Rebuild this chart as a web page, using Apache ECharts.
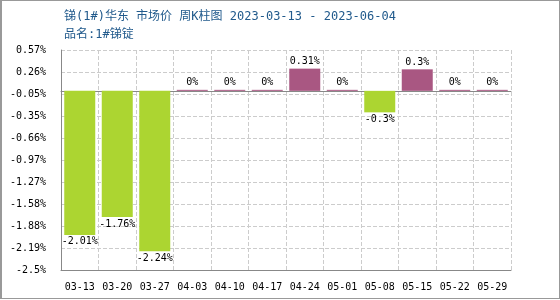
<!DOCTYPE html>
<html>
<head>
<meta charset="utf-8">
<script src="https://cdn.jsdelivr.net/npm/echarts@6/dist/echarts.min.js"></script>
<style>
html, body { margin: 0; padding: 0; background: #fff; }
#box { width: 560px; height: 299px; box-sizing: border-box; border: 1px solid #999; border-left-width: 2px; position: relative; }
#chart { position: absolute; left: -2px; top: -1px; width: 560px; height: 300px; }
</style>
</head>
<body>
<div id="box"><div id="chart"></div></div>
<script>
// 周K柱图数据
var weeks = ['03-13','03-20','03-27','04-03','04-10','04-17','04-24','05-01','05-08','05-15','05-22','05-29'];
var change = [-2.01, -1.76, -2.24, 0, 0, 0, 0.31, 0, -0.3, 0.3, 0, 0];
var yLabels = ['-2.5%','-2.19%','-1.88%','-1.58%','-1.27%','-0.97%','-0.66%','-0.35%','-0.05%','0.26%','0.57%'];

var upColor = '#a95782';
var downColor = '#acd531';
var mono = 'DejaVu Sans Mono';
var titleFont = "'DejaVu Sans Mono', 'Noto Sans CJK SC'";

var barData = change.map(function (v) {
    return {
        value: v,
        itemStyle: { color: v < 0 ? downColor : upColor },
        label: { position: v < 0 ? 'bottom' : 'top' }
    };
});

var chart = echarts.init(document.getElementById('chart'));
var option = {
    animation: false,
    title: {
        text: '锑(1#)华东 市场价 周K柱图 2023-03-13 - 2023-06-04',
        subtext: '品名:1#锑锭',
        left: 59,
        top: 6,
        itemGap: 6,
        textStyle: { fontFamily: titleFont, fontSize: 12, fontWeight: 'normal', color: '#215a8c' },
        subtextStyle: { fontFamily: titleFont, fontSize: 12, color: '#215a8c' }
    },
    grid: { left: 61, right: 49, top: 50, bottom: 30 },
    xAxis: [
        {
            type: 'category',
            data: weeks,
            position: 'bottom',
            axisLine: { onZero: false, lineStyle: { color: '#888', width: 1 } },
            axisTick: { show: false },
            axisLabel: { fontFamily: mono, fontSize: 10, color: '#000', margin: 12, interval: 0 },
            splitLine: { show: true, interval: 0, lineStyle: { type: 'dashed', color: '#ccc' } }
        },
        {
            type: 'category',
            data: weeks,
            position: 'bottom',
            axisLine: { onZero: true, lineStyle: { color: '#888', width: 1 } },
            axisTick: { show: false },
            axisLabel: { show: false },
            splitLine: { show: false }
        }
    ],
    yAxis: {
        type: 'value',
        min: -2.5,
        max: 0.57,
        interval: 0.307,
        axisLine: { show: true, lineStyle: { color: '#888', width: 1 } },
        axisTick: { show: false },
        axisLabel: {
            fontFamily: mono, fontSize: 10, color: '#000', margin: 15,
            formatter: function (v, i) { return yLabels[i]; }
        },
        splitLine: { show: true, lineStyle: { type: 'dashed', color: '#ccc' } }
    },
    series: [
        {
            type: 'bar',
            xAxisIndex: 0,
            data: barData,
            barWidth: 31,
            barMinHeight: 1,
            label: {
                show: true,
                distance: 2,
                fontFamily: mono,
                fontSize: 10,
                color: '#000',
                formatter: function (p) { return p.value + '%'; }
            }
        }
    ]
};
chart.setOption(option);
</script>
</body>
</html>
